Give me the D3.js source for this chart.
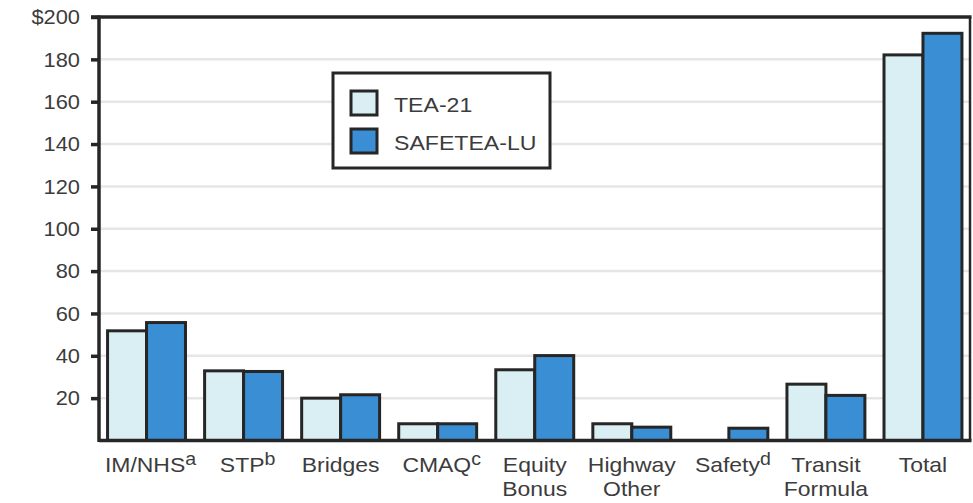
<!DOCTYPE html>
<html><head><meta charset="utf-8">
<script src="https://cdn.jsdelivr.net/npm/d3@7/dist/d3.min.js"></script>
<style>
html,body{margin:0;padding:0;background:#fff;}
svg{display:block;font-family:"Liberation Sans",Arial,Helvetica,sans-serif;}
</style></head>
<body><svg id="c" width="973" height="503"></svg>
<script>
const categories = ["IM/NHS","STP","Bridges","CMAQ","Equity Bonus","Highway Other","Safety","Transit Formula","Total"];
const labelLine1 = ["IM/NHS","STP","Bridges","CMAQ","Equity","Highway","Safety","Transit","Total"];
const labelLine2 = ["","","","","Bonus","Other","","Formula",""];
const labelSup   = ["a","b","","c","","","d","",""];
const seriesNames = ["TEA-21","SAFETEA-LU"];
const tea21    = [51.8, 32.9, 20.0, 7.9, 33.4, 7.9, 0,   26.6, 182.1];
const safetealu= [55.7, 32.6, 21.6, 7.9, 40.1, 6.3, 5.8, 21.3, 192.3];
const yTicks = [20,40,60,80,100,120,140,160,180,200];

const colors = {"TEA-21":"#d9eff4","SAFETEA-LU":"#3a8ed4"};
const ink = "#262626", textCol = "#3c3c3c";
const SX = 1.12;

const svg = d3.select("#c");
const L=99, R=970, T=17, B=440.5;
const x = d3.scaleBand().domain(categories).range([L+0.5,R]).paddingInner(0.197).paddingOuter(0.083);
const x1 = d3.scaleBand().domain(seriesNames).range([0,x.bandwidth()]);
const y = d3.scaleLinear().domain([0,200]).range([B,T]);

// gridlines
svg.append("g").selectAll("line").data(yTicks.filter(d=>d<200)).join("line")
  .attr("x1",L).attr("x2",R).attr("y1",d=>y(d)).attr("y2",d=>y(d))
  .attr("stroke","#e6e6e6").attr("stroke-width",2.5);

// y axis
const yAxis = svg.append("g").attr("transform",`translate(${L},0)`)
  .call(d3.axisLeft(y).tickValues(yTicks).tickSize(8).tickFormat(d=>d===200?"$200":d));
yAxis.select(".domain").remove();
yAxis.selectAll(".tick line").attr("stroke",ink).attr("stroke-width",3.5);
yAxis.selectAll(".tick text").attr("fill",textCol).attr("font-size",19.5)
  .attr("x",-19/SX).attr("dy","0.35em").attr("transform",`scale(${SX},1)`);

// bars
const rows = categories.map((c,i)=>({c, vals:[{k:"TEA-21",v:tea21[i]},{k:"SAFETEA-LU",v:safetealu[i]}]}));
const grp = svg.append("g").selectAll("g").data(rows).join("g")
  .attr("transform",d=>`translate(${x(d.c)},0)`);
grp.selectAll("rect").data(d=>d.vals.filter(e=>e.v>0)).join("rect")
  .attr("x",d=>x1(d.k)).attr("width",x1.bandwidth())
  .attr("y",d=>y(d.v)).attr("height",d=>y(0)-y(d.v))
  .attr("fill",d=>colors[d.k]).attr("stroke",ink).attr("stroke-width",3);

// frame: left, bottom, top, right
const fr = svg.append("g").attr("stroke",ink).attr("fill","none");
fr.append("line").attr("x1",L).attr("x2",L).attr("y1",T-1.5).attr("y2",B+1.5).attr("stroke-width",3.5);
fr.append("line").attr("x1",L).attr("x2",R+1.5).attr("y1",B).attr("y2",B).attr("stroke-width",3.5);
fr.append("line").attr("x1",L-8).attr("x2",R+1.5).attr("y1",T).attr("y2",T).attr("stroke-width",3.5);
fr.append("line").attr("x1",R).attr("x2",R).attr("y1",T).attr("y2",B).attr("stroke-width",2.5);

// x labels
const xl = svg.append("g").selectAll("g").data(categories).join("g")
  .attr("transform",(d,i)=>`translate(${x(d)+x.bandwidth()/2 + (labelSup[i]?4:0)},0) scale(${SX},1)`);
xl.each(function(d,i){
  const g = d3.select(this);
  const t = g.append("text").attr("y",472.5).attr("text-anchor","middle")
    .attr("font-size",20.5).attr("fill",textCol);
  t.append("tspan").text(labelLine1[i]);
  if(labelSup[i]) t.append("tspan").attr("font-size",17.5).attr("dy",-7).text(labelSup[i]);
  if(labelLine2[i]) g.append("text").attr("y",496.5).attr("text-anchor","middle")
    .attr("font-size",20.5).attr("fill",textCol).text(labelLine2[i]);
});

// legend
const lg = svg.append("g");
lg.append("rect").attr("x",333).attr("y",73).attr("width",217).attr("height",95)
  .attr("fill","#fff").attr("stroke",ink).attr("stroke-width",3);
seriesNames.forEach((s,i)=>{
  const yy = 91 + i*38;
  lg.append("rect").attr("x",351).attr("y",yy).attr("width",26).attr("height",24)
    .attr("fill",colors[s]).attr("stroke",ink).attr("stroke-width",3);
  lg.append("text").attr("transform",`translate(394,${yy+21}) scale(1.1,1)`)
    .attr("font-size",21).attr("fill",textCol).text(s);
});
</script></body></html>
